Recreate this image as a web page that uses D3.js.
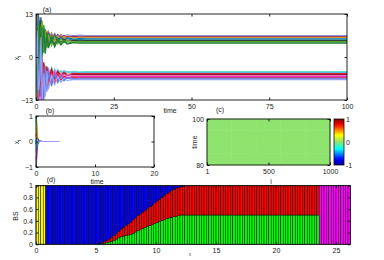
<!DOCTYPE html>
<html><head><meta charset="utf-8">
<script src="https://cdn.jsdelivr.net/npm/d3@7"></script>
<style>
html,body{margin:0;padding:0;background:#fff;}
svg text{font-family:"Liberation Sans",Arial,sans-serif;}
</style></head>
<body><svg id="c" width="384" height="260"></svg>
<script>
// ---------- Panel (a) data ----------
const tA = [0,0.4,0.8,1.2,1.6,2,2.5,3,3.5,4,5,6,7,8,9,10,12,14,16,20,30,100];
const aUpper = [
 [-8,11,3,12,2,9.5,4,8.5,5,7.8,5.6,7.2,6.0,6.9,6.2,6.7,6.4,6.6,6.5,6.5,6.5,6.5],
 [12,-5,10,1,11,3,9,4,7.8,4.8,7.2,5.3,6.8,5.7,6.5,5.9,6.3,6.1,6.2,6.2,6.2,6.2],
 [3,13,-2,9,0.5,8,2.5,7.5,4,7.6,4.8,6.9,5.3,6.5,5.6,6.3,5.9,6.05,6,6,6,6],
 [-12,6,12,-1,10,2,9.2,3.2,8,4.1,7,4.8,6.5,5.2,6.2,5.5,5.9,5.75,5.8,5.8,5.8,5.8],
 [7,-9,8,11,1.5,9,2,8.2,3.5,7.2,4.2,6.6,4.8,6.1,5.1,5.8,5.4,5.55,5.5,5.5,5.5,5.5],
 [-3,4,13,0,7,10,1.2,7.8,2.9,7.0,3.8,6.3,4.5,5.8,4.8,5.5,5.1,5.25,5.2,5.2,5.2,5.2],
 [10,1,-6,8,12,1.5,8.5,2.6,7.4,3.2,6.4,3.9,5.8,4.4,5.4,4.8,5.05,5.0,5,5,5,5],
 [-7,12,5,-3,9,11,2,8,2.7,6.6,3.4,5.9,3.9,5.4,4.3,5.0,4.6,4.72,4.7,4.7,4.7,4.7],
 [1,-11,9,6,-1,8,9.7,1.3,7,2.8,6.1,3.3,5.5,3.8,5.0,4.2,4.55,4.5,4.5,4.5,4.5,4.5],
 [13,8,-4,10,4,0,8.5,1.0,6.5,2.7,5.6,3.0,5.1,3.6,4.7,3.9,4.3,4.2,4.2,4.2,4.2,4.2]
];
const aLower = [
 [9,-12,2,-10,-1,-8,-2,-7.5,-2.8,-6.5,-3.2,-5.6,-3.7,-5.1,-4.0,-4.7,-4.3,-4.45,-4.4,-4.4,-4.4,-4.4],
 [-13,5,-9,3,-11,-1.5,-9,-2.5,-7.6,-3.2,-6.6,-3.7,-5.6,-4.1,-5.2,-4.4,-4.75,-4.7,-4.7,-4.7,-4.7,-4.7],
 [2,-13,10,-6,1,-10,-1.5,-8.6,-2.8,-7.4,-3.5,-6.4,-4.2,-5.7,-4.5,-5.3,-4.9,-5.0,-5,-5,-5,-5],
 [-9,3,-13,5,-8,-12,-2,-9.5,-3.3,-7.6,-4.1,-6.6,-4.5,-6.0,-4.9,-5.6,-5.25,-5.3,-5.3,-5.3,-5.3,-5.3],
 [12,-2,-7,-13,2,-9,-11.5,-2.8,-8.4,-3.7,-7.4,-4.2,-6.6,-4.9,-6.1,-5.3,-5.65,-5.6,-5.6,-5.6,-5.6,-5.6],
 [-5,10,-12,1,-13,-3,-10,-3.3,-9,-4.1,-7.6,-4.6,-7.0,-5.2,-6.4,-5.6,-5.95,-5.9,-5.9,-5.9,-5.9,-5.9],
 [6,-8,4,-12,-4,-13,-2.5,-10.5,-4.3,-8.8,-4.8,-7.8,-5.2,-7.0,-5.7,-6.5,-6.1,-6.2,-6.2,-6.2,-6.2,-6.2],
 [-11,13,-3,-9,-12,0,-12.5,-3.6,-9.5,-4.5,-8.4,-5.2,-7.5,-5.6,-6.9,-6.1,-6.45,-6.4,-6.4,-6.4,-6.4,-6.4],
 [4,-6,-13,8,-6,-11,-13,-3,-10.5,-4.6,-8.8,-5.3,-7.8,-5.8,-7.2,-6.4,-6.75,-6.7,-6.7,-6.7,-6.7,-6.7],
 [-2,8,-10,-7,6,-13,-5,-12,-4.2,-9.8,-5.3,-8.4,-5.9,-7.6,-6.4,-7.1,-6.85,-6.9,-6.9,-6.9,-6.9,-6.9]
];
const upperColors = ["#9393dd","#7E2F8E","#D95319","#c9a227","#0072BD","#1a7f86","#3a3a3a","#77AC30","#2ca02c","#1e7b30"];
const lowerColors = ["#62dccf","#4DBEEE","#d62728","#A2142F","#e377c2","#ff33cc","#ff1f1f","#9467bd","#5b7fe6","#8fa5ff"];
const aXTicks = [0,25,50,75,100];
const aYTicks = [-13,0,13];

// ---------- Panel (b) data ----------
const tB = [0,0.1,0.2,0.3,0.45,0.6,0.8,1.0,1.3];
const bSeries = [
 [1,0.7,0.3,0.08,-0.03,0.02,0,0,0],
 [0.75,0.9,0.4,0.1,0.05,-0.02,0.01,0,0],
 [0.45,0.6,0.25,0.15,0.05,0.02,0,0,0],
 [0.2,0.35,0.1,0.12,0.03,0,0,0,0],
 [-0.1,0.15,-0.1,0.05,0.08,-0.02,0.03,0,0],
 [-0.4,-0.2,-0.3,-0.05,0.02,0,0,0,0],
 [-0.7,-0.55,-0.2,-0.1,0,0.01,0,0,0],
 [-1,-0.8,-0.35,-0.12,-0.04,0,0,0,0],
 [0.05,-0.3,0.1,-0.05,0.02,0,0,0,0]
];
const bColors = ["#1b9e77","#66a61e","#e6ab02","#d95f02","#1f3fbf","#7570b3","#e7298a","#6a3d9a","#17becf"];
const bLavT = [0.2,0.4,0.7,1,2,4];
const bLavV = [0.05,-0.02,0.01,0,0,0];
const bXTicks = [0,10,20];
const bYTicks = [-1,0,1];

// ---------- Panel (c) data ----------
const cIEdges = [1,200,400,600,800,1000];
const cTEdges = [80,85,90,95,100];
const cValues = [
 [0,0,0,0,0],
 [0,0,0,0,0],
 [0,0,0,0,0],
 [0,0,0,0,0]
];
const cXTicks = [1,500,1000];
const cYTicks = [80,100];
const cBarTicks = [-1,0,1];

// ---------- Panel (d) data ----------
const bsDelta = d3.range(131).map(k => +(k*0.2).toFixed(1));
const bsYellow = [
 1,1,1,1,0,0,0,0,0,0, 0,0,0,0,0,0,0,0,0,0, 0,0,0,0,0,0,0,0,0,0, 0,0,0,0,0,0,0,0,0,0,
 0,0,0,0,0,0,0,0,0,0, 0,0,0,0,0,0,0,0,0,0, 0,0,0,0,0,0,0,0,0,0, 0,0,0,0,0,0,0,0,0,0,
 0,0,0,0,0,0,0,0,0,0, 0,0,0,0,0,0,0,0,0,0, 0,0,0,0,0,0,0,0,0,0, 0,0,0,0,0,0,0,0,0,0,
 0,0,0,0,0,0,0,0,0,0, 0];
const bsBlue = [
 0,0,0,0,1,1,1,1,1,1, 1,1,1,1,1,1,1,1,1,1, 1,1,1,1,1,1,.99,.97,.95,.93,
 .91,.88,.85,.81,.78,.74,.71,.68,.65,.62, .58,.55,.51,.48,.45,.42,.39,.36,.33,.29,
 .26,.23,.20,.16,.13,.11,.08,.06,.04,.03, .02,.01,0,0,0,0,0,0,0,0,
 0,0,0,0,0,0,0,0,0,0, 0,0,0,0,0,0,0,0,0,0, 0,0,0,0,0,0,0,0,0,0, 0,0,0,0,0,0,0,0,0,0,
 0,0,0,0,0,0,0,0,0,0, 0,0,0,0,0,0,0,0,0,0, 0];
const bsRed = [
 0,0,0,0,0,0,0,0,0,0, 0,0,0,0,0,0,0,0,0,0, 0,0,0,0,0,0,.005,.02,.03,.04,
 .05,.07,.08,.10,.11,.13,.15,.17,.19,.21, .23,.24,.26,.27,.28,.29,.30,.32,.33,.35,
 .37,.38,.39,.42,.43,.44,.46,.47,.48,.48, .48,.49,.50,.5,.5,.5,.5,.5,.5,.5,
 .5,.5,.5,.5,.5,.5,.5,.5,.5,.5, .5,.5,.5,.5,.5,.5,.5,.5,.5,.5, .5,.5,.5,.5,.5,.5,.5,.5,.5,.5, .5,.5,.5,.5,.5,.5,.5,.5,.5,.5,
 .5,.5,.5,.5,.5,.5,.5,.5,0,0, 0,0,0,0,0,0,0,0,0,0, 0];
const bsGreen = [
 0,0,0,0,0,0,0,0,0,0, 0,0,0,0,0,0,0,0,0,0, 0,0,0,0,0,0,.005,.01,.02,.03,
 .04,.05,.07,.09,.11,.13,.14,.15,.16,.17, .19,.21,.23,.25,.27,.29,.31,.32,.34,.36,
 .37,.39,.41,.42,.44,.45,.46,.47,.48,.49, .50,.50,.50,.5,.5,.5,.5,.5,.5,.5,
 .5,.5,.5,.5,.5,.5,.5,.5,.5,.5, .5,.5,.5,.5,.5,.5,.5,.5,.5,.5, .5,.5,.5,.5,.5,.5,.5,.5,.5,.5, .5,.5,.5,.5,.5,.5,.5,.5,.5,.5,
 .5,.5,.5,.5,.5,.5,.5,.5,0,0, 0,0,0,0,0,0,0,0,0,0, 0];
const bsMagenta = [
 0,0,0,0,0,0,0,0,0,0, 0,0,0,0,0,0,0,0,0,0, 0,0,0,0,0,0,0,0,0,0, 0,0,0,0,0,0,0,0,0,0,
 0,0,0,0,0,0,0,0,0,0, 0,0,0,0,0,0,0,0,0,0, 0,0,0,0,0,0,0,0,0,0, 0,0,0,0,0,0,0,0,0,0,
 0,0,0,0,0,0,0,0,0,0, 0,0,0,0,0,0,0,0,0,0, 0,0,0,0,0,0,0,0,0,0, 0,0,0,0,0,0,0,0,1,1,
 1,1,1,1,1,1,1,1,1,1, 1];
const bsWidth = 0.2;
const dXTicks = [0,5,10,15,20,25];
const dYTicks = [0,0.2,0.4,0.6,0.8,1];

// ---------- drawing ----------
const svg = d3.select("#c");
const FS = 7;
const TXT = "#222";

function frame(g, x, y, opts) {
  const [x0,x1] = x.range(), [y1,y0] = y.range();
  const tick = 2.5;
  g.append("g").attr("transform",`translate(0,${y1})`)
    .call(d3.axisBottom(x).tickValues(opts.xt).tickSizeInner(-tick).tickSizeOuter(0).tickPadding(4).tickFormat(opts.xf||d3.format("")))
    .call(a=>{a.select(".domain").remove();a.selectAll("line").attr("stroke","#222");a.selectAll("text").attr("font-size",FS).attr("fill",TXT).attr("font-family","Liberation Sans, Arial");});
  g.append("g").attr("transform",`translate(0,${y0})`)
    .call(d3.axisTop(x).tickValues(opts.xt).tickSizeInner(-tick).tickSizeOuter(0).tickFormat(""))
    .call(a=>{a.select(".domain").remove();a.selectAll("line").attr("stroke","#222");});
  g.append("g").attr("transform",`translate(${x0},0)`)
    .call(d3.axisLeft(y).tickValues(opts.yt).tickSizeInner(-tick).tickSizeOuter(0).tickPadding(3).tickFormat(opts.yf||d3.format("")))
    .call(a=>{a.select(".domain").remove();a.selectAll("line").attr("stroke","#222");a.selectAll("text").attr("font-size",FS).attr("fill",TXT).attr("font-family","Liberation Sans, Arial");});
  g.append("g").attr("transform",`translate(${x1},0)`)
    .call(d3.axisRight(y).tickValues(opts.yt).tickSizeInner(-tick).tickSizeOuter(0).tickFormat(""))
    .call(a=>{a.select(".domain").remove();a.selectAll("line").attr("stroke","#222");});
  g.append("rect").attr("x",x0).attr("y",y0).attr("width",x1-x0).attr("height",y1-y0)
    .attr("fill","none").attr("stroke","#111").attr("stroke-width",0.9);
}
function label(txt, x, y, rot, size, fill) {
  const t = svg.append("text").attr("x",x).attr("y",y).attr("text-anchor","middle")
    .attr("font-size",size||FS).attr("fill",fill||TXT).text(txt);
  if (rot) t.attr("transform",`rotate(-90,${x},${y})`);
  return t;
}
function subLabel(main, sub, x, y) {
  const t = svg.append("text").attr("x",x).attr("y",y).attr("text-anchor","middle")
    .attr("font-size",FS).attr("fill",TXT).attr("transform",`rotate(-90,${x},${y})`);
  t.append("tspan").text(main);
  t.append("tspan").attr("font-size",5).attr("dy",1.5).text(sub);
}

// Panel (a)
{
  const x = d3.scaleLinear().domain([0,100]).range([36,347]);
  const y = d3.scaleLinear().domain([-13,13]).range([100,14]);
  svg.append("clipPath").attr("id","clipA").append("rect").attr("x",36).attr("y",14).attr("width",311).attr("height",86);
  const g = svg.append("g");
  const pg = g.append("g").attr("clip-path","url(#clipA)");
  const line = d3.line().x((d,i)=>x(tA[i])).y(d=>y(d));
  const all = [];
  for (let i=0;i<10;i++){ all.push([aUpper[i],upperColors[i]]); all.push([aLower[i],lowerColors[i]]); }
  pg.selectAll("path").data(all).join("path")
    .attr("d",d=>line(d[0])).attr("fill","none").attr("stroke",d=>d[1]).attr("stroke-width",1.1);
  frame(g,x,y,{xt:aXTicks,yt:aYTicks});
  label("time",170,112.5);
  label("(a)",47,11.5);
  subLabel("x","i",19,58);
}

// Panel (b)
{
  const x = d3.scaleLinear().domain([0,20]).range([36,154]);
  const y = d3.scaleLinear().domain([-1,1]).range([167,116]);
  const g = svg.append("g");
  const line = d3.line().x((d,i)=>x(tB[i])).y(d=>y(d));
  g.selectAll("path.s").data(bSeries).join("path").attr("class","s")
    .attr("d",d=>line(d)).attr("fill","none").attr("stroke",(d,i)=>bColors[i]).attr("stroke-width",1);
  const lav = d3.line().x((d,i)=>x(bLavT[i])).y(d=>y(d));
  g.append("path").attr("d",lav(bLavV)).attr("fill","none").attr("stroke","#9a9cf5").attr("stroke-width",1.1);
  frame(g,x,y,{xt:bXTicks,yt:bYTicks});
  label("time",97,183.5);
  label("(b)",50,112.5);
  subLabel("x","i",19,142);
}

// Panel (c)
{
  const x = d3.scaleLinear().domain([1,1000]).range([207,330]);
  const y = d3.scaleLinear().domain([80,100]).range([165,119]);
  const col = d3.scaleLinear().domain([-1,-0.75,-0.3,0,0.3,0.75,1])
    .range(["#000090","#0000ff","#00ffff","#8ee46e","#ffff00","#ff0000","#800000"]);
  const g = svg.append("g");
  const cells = [];
  cValues.forEach((row,r)=>row.forEach((v,c)=>cells.push({r,c,v})));
  g.selectAll("rect.cell").data(cells).join("rect").attr("class","cell")
    .attr("x",d=>x(cIEdges[d.c])).attr("width",d=>x(cIEdges[d.c+1])-x(cIEdges[d.c]))
    .attr("y",d=>y(cTEdges[d.r+1])).attr("height",d=>y(cTEdges[d.r])-y(cTEdges[d.r+1]))
    .attr("fill",d=>col(d.v)).attr("stroke",d=>col(d.v)).attr("stroke-width",0.5);
  frame(g,x,y,{xt:cXTicks,yt:cYTicks});
  // colorbar
  const grad = svg.append("defs").append("linearGradient").attr("id","jet")
    .attr("x1",0).attr("y1",1).attr("x2",0).attr("y2",0);
  d3.range(0,1.0001,0.05).forEach(p=>grad.append("stop").attr("offset",p).attr("stop-color",col(-1+2*p)));
  const cb = d3.scaleLinear().domain([-1,1]).range([165,119]);
  svg.append("rect").attr("x",334).attr("y",119).attr("width",10).attr("height",46)
    .attr("fill","url(#jet)").attr("stroke","#111").attr("stroke-width",0.8);
  svg.selectAll("text.cbt").data(cBarTicks).join("text").attr("class","cbt")
    .attr("x",346).attr("y",d=>cb(d)+2.5).attr("font-size",FS).attr("fill",TXT).text(d=>d);
  label("i",271,183.5);
  label("(c)",220,112);
  label("time",197,142,true);
}

// Panel (d)
{
  const x = d3.scaleLinear().domain([0,26.2]).range([36,350.4]);
  const y = d3.scaleLinear().domain([0,1]).range([244.3,185.7]);
  const rows = bsDelta.map((d,i)=>({d, yellow:bsYellow[i], green:bsGreen[i], red:bsRed[i], blue:bsBlue[i], magenta:bsMagenta[i]}));
  const keys = ["yellow","green","red","blue","magenta"];
  const colors = {yellow:"#ffff00", green:"#00ff00", red:"#ff0000", blue:"#0000ff", magenta:"#ff00ff"};
  const stack = d3.stack().keys(keys)(rows);
  const g = svg.append("g");
  stack.forEach(layer=>{
    g.append("g").selectAll("rect").data(layer.filter(s=>s[1]-s[0]>0)).join("rect")
      .attr("x",s=>x(s.data.d)).attr("width",s=>x(s.data.d+bsWidth)-x(s.data.d))
      .attr("y",s=>y(s[1])).attr("height",s=>y(s[0])-y(s[1]))
      .attr("fill",colors[layer.key]).attr("stroke","#000").attr("stroke-width",0.45);
  });
  frame(g,x,y,{xt:dXTicks,yt:dYTicks,yf:d=>d3.format("")(+d.toFixed(1))});
  label("(d)",51,181.5);
  label("BS",18,216,true);
  label("ε",190,256,false,6,"#777");
}
</script></body></html>
